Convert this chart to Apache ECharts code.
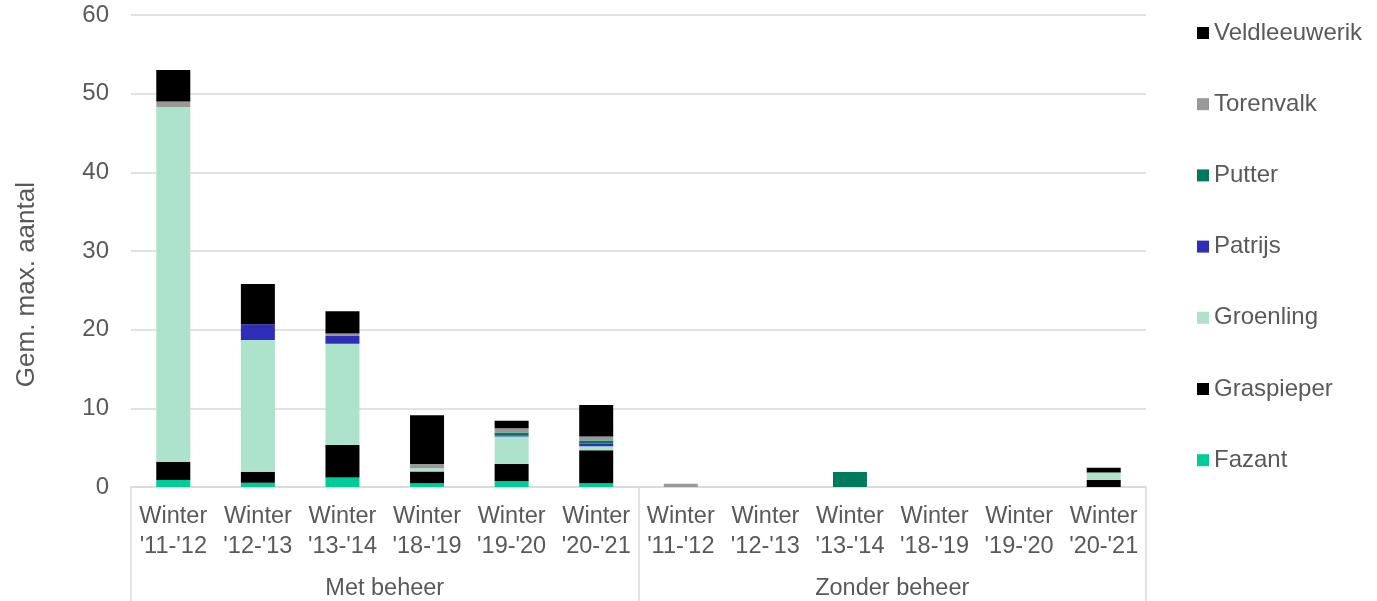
<!DOCTYPE html>
<html>
<head>
<meta charset="utf-8">
<script src="https://cdn.jsdelivr.net/npm/echarts@6/dist/echarts.min.js"></script>
<style>html,body{margin:0;padding:0;background:#fff}#c{width:1377px;height:601px}</style>
</head>
<body>
<div id="c"></div>
<script>
var categories = ["Winter\n'11-'12","Winter\n'12-'13","Winter\n'13-'14","Winter\n'18-'19","Winter\n'19-'20","Winter\n'20-'21",
                  "Winter\n'11-'12","Winter\n'12-'13","Winter\n'13-'14","Winter\n'18-'19","Winter\n'19-'20","Winter\n'20-'21"];
var groups = ["Met beheer", "Zonder beheer"];
var yTicks = { min: 0, max: 60, interval: 10 };
var fazant        = [0.9, 0.55, 1.2, 0.47, 0.76, 0.47, 0, 0, 0, 0, 0, 0];
var graspieper    = [2.3, 1.4, 4.15, 1.5, 2.15, 4.2, 0, 0, 0, 0, 0, 0.9];
var groenling     = [45.1, 16.75, 12.85, 0.4, 3.5, 0.5, 0, 0, 0, 0, 0, 0.95];
var patrijs       = [0, 2.0, 1.0, 0, 0.12, 0.35, 0, 0, 0, 0, 0, 0];
var putter        = [0, 0, 0, 0, 0.4, 0.4, 0, 0, 1.9, 0, 0, 0];
var torenvalk     = [0.7, 0, 0.3, 0.55, 0.55, 0.5, 0.4, 0, 0, 0, 0, 0];
var veldleeuwerik = [4.0, 5.1, 2.85, 6.2, 0.95, 4.0, 0, 0, 0, 0, 0, 0.6];

var seriesDefs = [
  ["Fazant", fazant, "#00CC99"],
  ["Graspieper", graspieper, "#000000"],
  ["Groenling", groenling, "#ADE3CA"],
  ["Patrijs", patrijs, "#2E2EB8"],
  ["Putter", putter, "#007A5E"],
  ["Torenvalk", torenvalk, "#999999"],
  ["Veldleeuwerik", veldleeuwerik, "#000000"]
];

var FONT = "Liberation Sans";
var TXT = "#595959";
var GRID = "#D9D9D9";

var chart = echarts.init(document.getElementById('c'), null, {renderer: 'canvas'});
chart.setOption({
  animation: false,
  textStyle: { fontFamily: FONT },
  grid: { left: 131, right: 231, top: 15, bottom: 114, containLabel: false },
  legend: {
    orient: 'vertical', left: 1192, top: 16,
    icon: 'rect', itemWidth: 12, itemHeight: 12, itemGap: 47.2,
    textStyle: { fontFamily: FONT, fontSize: 24, color: TXT, lineHeight: 24 },
    data: ["Veldleeuwerik","Torenvalk","Putter","Patrijs","Groenling","Graspieper","Fazant"]
  },
  xAxis: [
    {
      type: 'category', data: categories, position: 'bottom',
      axisLine: { show: true, lineStyle: { color: GRID, width: 1.5 } },
      axisTick: { show: false },
      axisLabel: { interval: 0, margin: 15, fontSize: 23.5, lineHeight: 30, color: TXT, fontFamily: FONT }
    },
    {
      type: 'category', data: groups, position: 'bottom',
      axisLine: { show: false },
      axisTick: { show: true, length: 114, lineStyle: { color: GRID, width: 1.5 } },
      axisLabel: { interval: 0, margin: 90, fontSize: 23.5, color: TXT, fontFamily: FONT },
      splitLine: { show: false }
    }
  ],
  yAxis: {
    type: 'value', min: yTicks.min, max: yTicks.max, interval: yTicks.interval,
    axisLine: { show: false }, axisTick: { show: false },
    axisLabel: { fontSize: 24, color: TXT, margin: 22, fontFamily: FONT },
    splitLine: { lineStyle: { color: GRID, width: 1.5 } }
  },
  graphic: [{
    type: 'text', left: 14, top: 182, rotation: Math.PI / 2,
    style: { text: 'Gem. max. aantal', font: '26px "Liberation Sans"', fill: TXT }
  }],
  series: seriesDefs.map(function (d) {
    return {
      name: d[0], type: 'bar', stack: 'total', data: d[1], barWidth: 34,
      xAxisIndex: 0, itemStyle: { color: d[2] }
    };
  })
});
</script>
</body>
</html>
